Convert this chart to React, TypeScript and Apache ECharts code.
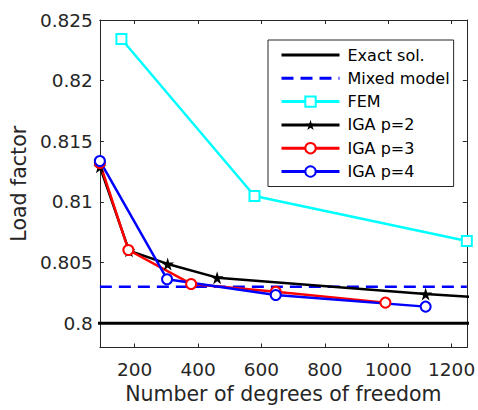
import React, { useEffect, useRef } from 'react';
import * as echarts from 'echarts';

const xMin = 90;
const xMax = 1248;
const yMin = 0.798;
const yMax = 0.825;
const xTicks = [200, 400, 600, 800, 1000, 1200];
const yTicks = [0.8, 0.805, 0.81, 0.815, 0.82, 0.825];

const exactValue = 0.8;
const mixedValue = 0.803;
const femDof = [158, 578, 1248];
const femLoad = [0.82343, 0.81049, 0.80678];
const iga2Dof = [90, 182, 304, 460, 1118, 1400];
const iga2Load = [0.81291, 0.80598, 0.80489, 0.80376, 0.80241, 0.80193];
const iga3Dof = [90, 180, 378, 645, 991];
const iga3Load = [0.81321, 0.80604, 0.80324, 0.8026, 0.8017];
const iga4Dof = [90, 302, 645, 1118];
const iga4Load = [0.81338, 0.80363, 0.80233, 0.80137];

const FONT = 'DejaVu Sans';
const AX = '#262626';
const STAR = 'path://M50,0 L61,35 L98,35 L68,57 L79,91 L50,70 L21,91 L32,57 L2,35 L39,35 Z';

const zip = (xs: number[], ys: number[]) => xs.map((x, i) => [x, ys[i]]);

export default function App() {
  const ref = useRef<HTMLDivElement>(null);
  useEffect(() => {
    if (!ref.current) return;
    const chart = echarts.init(ref.current, undefined, { renderer: 'svg' });
    const fmtY = (v: number) => String(+v.toFixed(3));
    const fmtX = (v: number) => String(Math.round(v));
    const baseX = {
      type: 'value' as const,
      min: xMin,
      max: xMax,
      splitLine: { show: false },
      axisLine: { onZero: false, lineStyle: { color: AX, width: 1 } },
      axisTick: { inside: true, length: 4, customValues: xTicks, lineStyle: { color: AX } },
    };
    const baseY = {
      type: 'value' as const,
      min: yMin,
      max: yMax,
      splitLine: { show: false },
      axisLine: { onZero: false, lineStyle: { color: AX, width: 1 } },
      axisTick: { inside: true, length: 4, customValues: yTicks, lineStyle: { color: AX } },
    };
    chart.setOption({
      animation: false,
      backgroundColor: '#fff',
      textStyle: { fontFamily: FONT },
      grid: { left: 96, right: 7, top: 20, bottom: 62.5 },
      xAxis: [
        {
          ...baseX,
          position: 'bottom',
          axisLabel: { customValues: xTicks, fontSize: 18.5, color: AX, fontFamily: FONT, margin: 12, formatter: fmtX },
          name: 'Number of degrees of freedom',
          nameLocation: 'middle',
          nameGap: 27,
          nameTextStyle: { fontSize: 20.5, color: AX, fontFamily: FONT },
        },
        { ...baseX, position: 'top', axisLabel: { show: false } },
      ],
      yAxis: [
        {
          ...baseY,
          position: 'left',
          axisLabel: { customValues: yTicks, fontSize: 18.5, color: AX, fontFamily: FONT, margin: 7, formatter: fmtY },
          name: 'Load factor',
          nameLocation: 'middle',
          nameGap: 66,
          nameTextStyle: { fontSize: 20.5, color: AX, fontFamily: FONT },
        },
        { ...baseY, position: 'right', axisLabel: { show: false } },
      ],
      legend: {
        orient: 'vertical',
        left: 268,
        top: 40,
        selectedMode: false,
        backgroundColor: '#fff',
        borderColor: AX,
        borderWidth: 1,
        padding: [7, 4, 7, 12],
        itemGap: 7.3,
        itemWidth: 58,
        itemHeight: 13,
        lineStyle: { width: 3 },
        textStyle: { fontSize: 16, fontFamily: FONT, color: '#000', lineHeight: 16, padding: [0, 0, 0, 3] },
        data: [
          { name: 'Exact sol.', itemStyle: { opacity: 0 } },
          { name: 'Mixed model', itemStyle: { opacity: 0 } },
          'FEM',
          'IGA p=2',
          'IGA p=3',
          'IGA p=4',
        ],
      },
      series: [
        {
          name: 'Exact sol.',
          type: 'line',
          symbol: 'none',
          clip: true,
          data: [[xMin - 100, exactValue], [xMax + 100, exactValue]],
          lineStyle: { color: '#000', width: 3 },
          itemStyle: { color: '#000' },
        },
        {
          name: 'Mixed model',
          type: 'line',
          symbol: 'none',
          clip: true,
          data: [[xMin, mixedValue], [xMax, mixedValue]],
          lineStyle: { color: '#0000ff', width: 2.5, type: [12, 7] },
          itemStyle: { color: '#0000ff' },
        },
        {
          name: 'FEM',
          type: 'line',
          clip: true,
          symbol: 'emptyRect',
          symbolSize: 10,
          data: zip(femDof, femLoad),
          lineStyle: { color: '#00ffff', width: 2.5 },
          itemStyle: { color: '#00ffff', borderWidth: 2 },
        },
        {
          name: 'IGA p=2',
          type: 'line',
          clip: true,
          symbol: STAR,
          symbolSize: 13,
          data: zip(iga2Dof, iga2Load),
          lineStyle: { color: '#000', width: 2.5 },
          itemStyle: { color: '#000' },
        },
        {
          name: 'IGA p=3',
          type: 'line',
          clip: true,
          symbol: 'emptyCircle',
          symbolSize: 10,
          data: zip(iga3Dof, iga3Load),
          lineStyle: { color: '#ff0000', width: 2.5 },
          itemStyle: { color: '#ff0000', borderWidth: 2 },
        },
        {
          name: 'IGA p=4',
          type: 'line',
          clip: true,
          symbol: 'emptyCircle',
          symbolSize: 10,
          data: zip(iga4Dof, iga4Load),
          lineStyle: { color: '#0000ff', width: 2.5 },
          itemStyle: { color: '#0000ff', borderWidth: 2 },
        },
      ],
    });
    return () => chart.dispose();
  }, []);
  return <div ref={ref} style={{ position: 'fixed', left: 0, top: 0, width: 478, height: 410 }} />;
}
